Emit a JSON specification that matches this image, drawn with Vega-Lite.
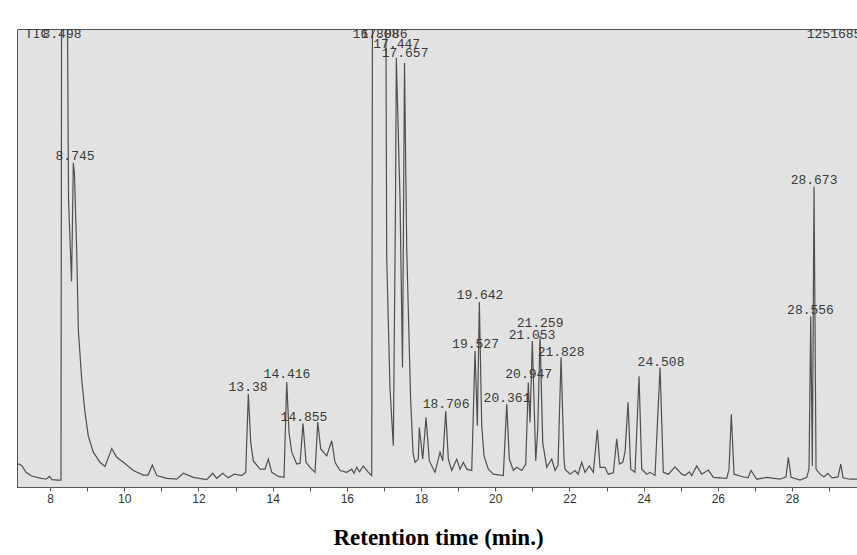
{
  "$schema": "https://vega.github.io/schema/vega-lite/v6.json",
  "width": 842,
  "height": 458,
  "autosize": {"type": "none"},
  "padding": {"left": 17, "top": 29, "right": 0, "bottom": 68},
  "background": "#ffffff",
  "config": {"view": {"fill": "#e2e2e2", "stroke": "#555555", "strokeWidth": 1}},
  "datasets": {
    "trace": [
      {"t": 7.11, "v": 5.0}, {"t": 7.172, "v": 5.0}, {"t": 7.245, "v": 4.6}, {"t": 7.353, "v": 3.2}, {"t": 7.501, "v": 2.4},
      {"t": 7.704, "v": 2.0}, {"t": 7.892, "v": 1.7}, {"t": 7.987, "v": 2.3}, {"t": 8.054, "v": 1.6}, {"t": 8.202, "v": 1.5},
      {"t": 8.296, "v": 1.5}, {"t": 8.315, "v": 130}, {"t": 8.377, "v": 160}, {"t": 8.45, "v": 130}, {"t": 8.499, "v": 62.7},
      {"t": 8.58, "v": 44.9}, {"t": 8.606, "v": 58.4}, {"t": 8.628, "v": 70.8}, {"t": 8.66, "v": 68.2}, {"t": 8.72, "v": 51.2},
      {"t": 8.763, "v": 34.4}, {"t": 8.854, "v": 23.5}, {"t": 8.943, "v": 16.3}, {"t": 9.032, "v": 11.1}, {"t": 9.167, "v": 7.6},
      {"t": 9.348, "v": 5.4}, {"t": 9.482, "v": 4.5}, {"t": 9.663, "v": 8.4}, {"t": 9.798, "v": 6.5}, {"t": 9.976, "v": 5.4},
      {"t": 10.245, "v": 3.6}, {"t": 10.515, "v": 2.6}, {"t": 10.642, "v": 2.6}, {"t": 10.757, "v": 4.8}, {"t": 10.876, "v": 2.5},
      {"t": 11.146, "v": 1.9}, {"t": 11.415, "v": 1.7}, {"t": 11.593, "v": 3.0}, {"t": 11.863, "v": 2.1}, {"t": 12.224, "v": 1.6},
      {"t": 12.385, "v": 3.0}, {"t": 12.493, "v": 1.9}, {"t": 12.655, "v": 3.0}, {"t": 12.798, "v": 2.0}, {"t": 12.968, "v": 2.8},
      {"t": 13.167, "v": 2.5}, {"t": 13.275, "v": 3.2}, {"t": 13.345, "v": 20.3}, {"t": 13.41, "v": 9.7}, {"t": 13.48, "v": 5.7},
      {"t": 13.66, "v": 3.9}, {"t": 13.795, "v": 3.9}, {"t": 13.884, "v": 6.1}, {"t": 13.976, "v": 3.2}, {"t": 14.154, "v": 2.3},
      {"t": 14.307, "v": 2.1}, {"t": 14.38, "v": 22.9}, {"t": 14.442, "v": 11.9}, {"t": 14.515, "v": 7.6}, {"t": 14.65, "v": 5.0},
      {"t": 14.739, "v": 5.2}, {"t": 14.819, "v": 13.9}, {"t": 14.9, "v": 5.4}, {"t": 15.008, "v": 4.3}, {"t": 15.143, "v": 3.2},
      {"t": 15.216, "v": 14.2}, {"t": 15.296, "v": 8.3}, {"t": 15.458, "v": 6.8}, {"t": 15.593, "v": 10.1}, {"t": 15.682, "v": 5.4},
      {"t": 15.817, "v": 3.6}, {"t": 15.997, "v": 3.2}, {"t": 16.132, "v": 3.9}, {"t": 16.194, "v": 3.0}, {"t": 16.267, "v": 4.3},
      {"t": 16.342, "v": 3.3}, {"t": 16.445, "v": 4.6}, {"t": 16.58, "v": 3.2}, {"t": 16.671, "v": 2.5}, {"t": 16.698, "v": 140},
      {"t": 16.84, "v": 160}, {"t": 16.92, "v": 130}, {"t": 17.03, "v": 160}, {"t": 17.075, "v": 50}, {"t": 17.164, "v": 21.4},
      {"t": 17.253, "v": 9.0}, {"t": 17.313, "v": 62.7}, {"t": 17.334, "v": 93.7}, {"t": 17.434, "v": 62.7}, {"t": 17.501, "v": 26.1},
      {"t": 17.555, "v": 92.6}, {"t": 17.615, "v": 51.9}, {"t": 17.72, "v": 19.0}, {"t": 17.785, "v": 7.5}, {"t": 17.838, "v": 5.4},
      {"t": 17.927, "v": 6.1}, {"t": 17.954, "v": 13.0}, {"t": 18.046, "v": 6.1}, {"t": 18.135, "v": 15.2}, {"t": 18.224, "v": 5.7},
      {"t": 18.377, "v": 3.2}, {"t": 18.512, "v": 7.6}, {"t": 18.585, "v": 5.7}, {"t": 18.666, "v": 16.6}, {"t": 18.736, "v": 6.1},
      {"t": 18.827, "v": 3.6}, {"t": 18.962, "v": 6.1}, {"t": 19.051, "v": 3.9}, {"t": 19.14, "v": 5.4}, {"t": 19.232, "v": 3.9},
      {"t": 19.367, "v": 3.6}, {"t": 19.456, "v": 29.7}, {"t": 19.518, "v": 13.4}, {"t": 19.572, "v": 40.4}, {"t": 19.636, "v": 13.4},
      {"t": 19.698, "v": 6.8}, {"t": 19.814, "v": 3.9}, {"t": 19.949, "v": 2.8}, {"t": 20.218, "v": 2.5}, {"t": 20.31, "v": 18.1},
      {"t": 20.38, "v": 6.1}, {"t": 20.488, "v": 3.6}, {"t": 20.579, "v": 4.3}, {"t": 20.714, "v": 3.6}, {"t": 20.822, "v": 5.0},
      {"t": 20.892, "v": 22.8}, {"t": 20.938, "v": 14.1}, {"t": 21.0, "v": 31.9}, {"t": 21.092, "v": 5.7}, {"t": 21.146, "v": 12.6},
      {"t": 21.208, "v": 33.0}, {"t": 21.28, "v": 9.7}, {"t": 21.388, "v": 4.3}, {"t": 21.523, "v": 6.1}, {"t": 21.612, "v": 3.6},
      {"t": 21.693, "v": 4.8}, {"t": 21.774, "v": 28.3}, {"t": 21.854, "v": 6.1}, {"t": 21.881, "v": 3.9}, {"t": 22.016, "v": 2.8},
      {"t": 22.151, "v": 3.6}, {"t": 22.232, "v": 2.8}, {"t": 22.332, "v": 5.4}, {"t": 22.42, "v": 3.2}, {"t": 22.536, "v": 4.6},
      {"t": 22.644, "v": 3.2}, {"t": 22.752, "v": 12.5}, {"t": 22.825, "v": 4.3}, {"t": 22.96, "v": 4.3}, {"t": 23.049, "v": 2.8},
      {"t": 23.184, "v": 3.1}, {"t": 23.275, "v": 10.5}, {"t": 23.345, "v": 5.0}, {"t": 23.437, "v": 5.4}, {"t": 23.499, "v": 7.6},
      {"t": 23.58, "v": 18.5}, {"t": 23.652, "v": 3.9}, {"t": 23.768, "v": 3.2}, {"t": 23.876, "v": 24.2}, {"t": 23.949, "v": 3.9},
      {"t": 24.084, "v": 2.8}, {"t": 24.173, "v": 3.2}, {"t": 24.307, "v": 2.5}, {"t": 24.442, "v": 26.1}, {"t": 24.531, "v": 3.2},
      {"t": 24.666, "v": 2.8}, {"t": 24.846, "v": 4.4}, {"t": 25.027, "v": 2.8}, {"t": 25.116, "v": 2.5}, {"t": 25.232, "v": 3.3},
      {"t": 25.296, "v": 2.5}, {"t": 25.431, "v": 4.6}, {"t": 25.566, "v": 2.8}, {"t": 25.744, "v": 3.7}, {"t": 25.879, "v": 2.1},
      {"t": 26.24, "v": 1.9}, {"t": 26.302, "v": 3.9}, {"t": 26.364, "v": 15.9}, {"t": 26.437, "v": 2.8}, {"t": 26.644, "v": 2.3},
      {"t": 26.814, "v": 2.0}, {"t": 26.895, "v": 3.6}, {"t": 27.049, "v": 1.7}, {"t": 27.318, "v": 2.1}, {"t": 27.677, "v": 1.7},
      {"t": 27.838, "v": 2.2}, {"t": 27.9, "v": 6.5}, {"t": 27.973, "v": 2.1}, {"t": 28.216, "v": 1.5}, {"t": 28.396, "v": 2.1},
      {"t": 28.458, "v": 3.9}, {"t": 28.504, "v": 37.3}, {"t": 28.547, "v": 4.6}, {"t": 28.593, "v": 65.6}, {"t": 28.647, "v": 3.9},
      {"t": 28.755, "v": 2.8}, {"t": 28.863, "v": 2.2}, {"t": 28.962, "v": 3.0}, {"t": 29.078, "v": 2.0}, {"t": 29.24, "v": 2.2},
      {"t": 29.313, "v": 5.0}, {"t": 29.375, "v": 2.0}, {"t": 29.563, "v": 1.7}, {"t": 29.8, "v": 1.7}
    ],
    "labels": [
      {"t": 7.641, "v": 98.0, "label": "TIC"},
      {"t": 8.323, "v": 98.0, "label": "8.498"},
      {"t": 8.674, "v": 71.5, "label": "8.745"},
      {"t": 13.337, "v": 21.0, "label": "13.38"},
      {"t": 14.388, "v": 23.7, "label": "14.416"},
      {"t": 14.846, "v": 14.4, "label": "14.855"},
      {"t": 16.787, "v": 98.0, "label": "16.808"},
      {"t": 17.003, "v": 98.0, "label": "17.086"},
      {"t": 17.345, "v": 95.9, "label": "17.447"},
      {"t": 17.569, "v": 93.9, "label": "17.657"},
      {"t": 18.674, "v": 17.2, "label": "18.706"},
      {"t": 19.469, "v": 30.3, "label": "19.527"},
      {"t": 19.59, "v": 41.0, "label": "19.642"},
      {"t": 20.318, "v": 18.6, "label": "20.361"},
      {"t": 20.903, "v": 23.7, "label": "20.947"},
      {"t": 20.992, "v": 32.4, "label": "21.053"},
      {"t": 21.208, "v": 34.9, "label": "21.259"},
      {"t": 21.774, "v": 28.6, "label": "21.828"},
      {"t": 24.469, "v": 26.4, "label": "24.508"},
      {"t": 28.498, "v": 37.7, "label": "28.556"},
      {"t": 28.593, "v": 66.2, "label": "28.673"},
      {"t": 29.132, "v": 98.0, "label": "1251685"}
    ]
  },
  "layer": [
    {
      "data": {"name": "trace"},
      "mark": {"type": "line", "color": "#505050", "strokeWidth": 1.2, "clip": true},
      "encoding": {
        "x": {
          "field": "t",
          "type": "quantitative",
          "scale": {"domain": [7.11, 29.805], "nice": false, "zero": false},
          "axis": {
            "values": [8, 9, 10, 11, 12, 13, 14, 15, 16, 17, 18, 19, 20, 21, 22, 23, 24, 25, 26, 27, 28, 29],
            "labelExpr": "datum.value % 2 == 0 ? datum.label : ''",
            "labelOverlap": false,
            "grid": false,
            "tickSize": 4,
            "tickColor": "#555555",
            "domainColor": "#555555",
            "labelFont": "Liberation Sans",
            "labelFontSize": 12,
            "labelColor": "#333333",
            "labelPadding": 2,
            "title": "Retention time (min.)",
            "titleFont": "Liberation Serif",
            "titleFontSize": 23,
            "titleFontWeight": "bold",
            "titleColor": "#000000",
            "titleY": 57,
            "titleBaseline": "alphabetic"
          }
        },
        "y": {
          "field": "v",
          "type": "quantitative",
          "scale": {"domain": [0, 100], "nice": false},
          "axis": null
        }
      }
    },
    {
      "data": {"name": "labels"},
      "mark": {"type": "text", "font": "Liberation Mono", "fontSize": 13, "color": "#3a3a3a", "align": "center", "baseline": "alphabetic"},
      "encoding": {
        "x": {"field": "t", "type": "quantitative"},
        "y": {"field": "v", "type": "quantitative"},
        "text": {"field": "label"}
      }
    }
  ]
}
